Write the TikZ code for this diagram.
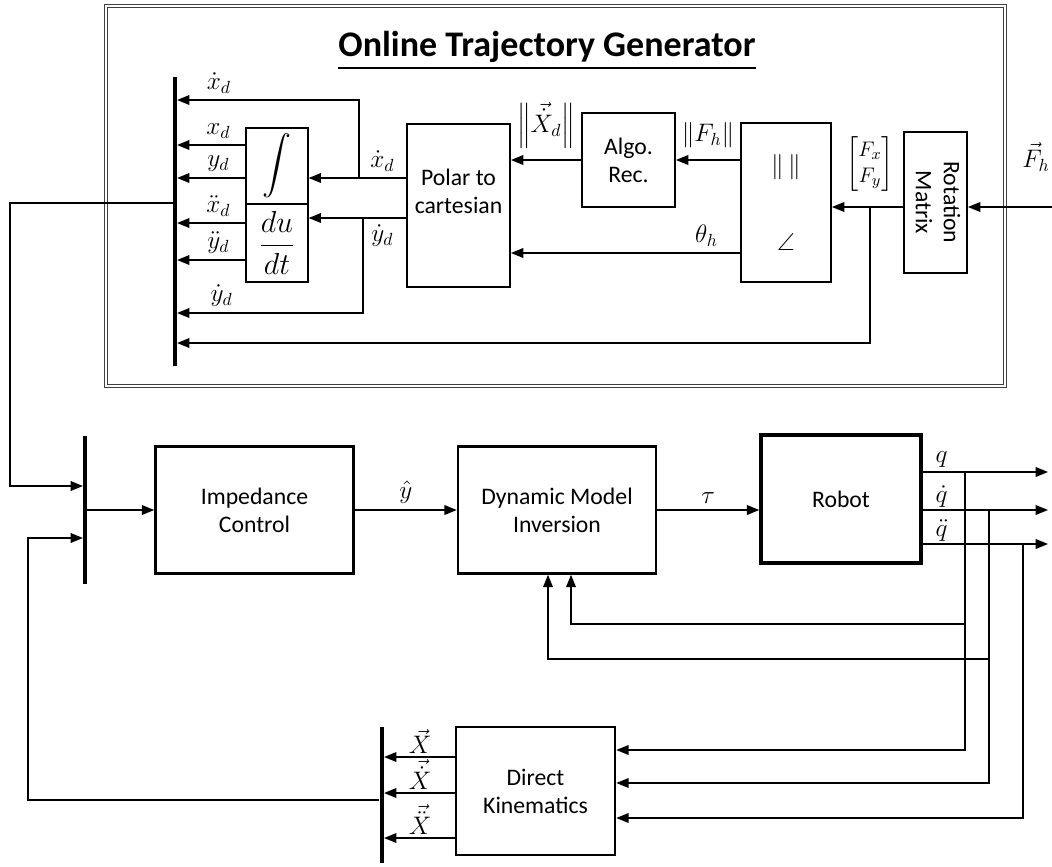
\documentclass[tikz,border=0pt]{standalone}
\usepackage{amsmath,amssymb}
\usepackage{fontspec}
\setmainfont{Carlito}
\usepackage{tikz}
\usetikzlibrary{arrows.meta,positioning,calc}

\begin{document}
\begin{tikzpicture}[
    x=0.02cm, y=-0.02cm,
    blk/.style={draw,line width=1.1pt,align=center,inner sep=0pt,font=\fontsize{13.5}{16}\selectfont},
    bigblk/.style={blk,line width=1.5pt,minimum width=3.96cm,minimum height=2.54cm},
    bus/.style={fill=black,inner sep=0pt,minimum width=0.07cm},
    sig/.style={font=\fontsize{14}{16}\selectfont},
    arr/.style={-{Triangle[length=7pt,width=5.5pt]},line width=0.8pt},
    wire/.style={line width=0.8pt}
]
\useasboundingbox (0,0) rectangle (1052,866);

% trajectory generator frame
\draw[draw=black!75,line width=0.5pt,double=white,double distance=1.6pt] (106,6) rectangle (1005,386);
\node[font=\fontsize{20.5}{22}\selectfont\bfseries] (title) at (547,51) {\underline{Online Trajectory Generator}};

\node[blk,line width=0.8pt,minimum width=1.24cm,minimum height=1.52cm] (integ) at (277,166) {\fontsize{16.5}{18}\selectfont$\displaystyle\int$};
\node[blk,line width=0.8pt,minimum width=1.24cm,minimum height=1.56cm] (deriv) at (277,243) {\fontsize{17}{19}\selectfont$\dfrac{du}{dt}$};
\node[blk,minimum width=2.06cm,minimum height=3.26cm] (polar) at (458.5,205.5) {Polar to\\cartesian\\\mbox{}};
\node[blk,minimum width=1.86cm,minimum height=1.88cm] (algo) at (628.5,160) {Algo.\\Rec.};
\node[blk,minimum width=1.8cm,minimum height=3.18cm,font=\fontsize{14}{16}\selectfont] (normang) at (786,202.5) {$\|\,\|$\\[28pt]$\angle$};
\node[blk,minimum width=1.26cm,minimum height=2.82cm] (rot) at (935.5,202.5) {\rotatebox{-90}{\begin{tabular}{@{}c@{}}Rotation\\Matrix\end{tabular}}};
\node[bus,minimum height=5.78cm] (tbus) at (175,221.5) {};

% force input
\coordinate (fin) at (1052,207);
\coordinate (fxy) at (870,207);
\node[sig] (fh) at (1036,157) {$\vec F_h$};
\draw[arr] (fin) -- (fin -| rot.east);
\draw[arr] (fin -| rot.west) -- (fin -| normang.east);
\node[font=\fontsize{13}{15}\selectfont] (fxylab) at (870,164) {$\begin{bmatrix}F_x\\F_y\end{bmatrix}$};
\coordinate (rfb) at (870,343);
\draw[arr] (fxy) -- (rfb) -- (rfb -| tbus.east);

\draw[arr] (normang.west |- algo.east) -- (algo.east) node[sig,midway,above=3pt] {$\|F_h\|$};
\coordinate (th) at (741,253);
\draw[arr] (th) -- (th -| polar.east) node[sig,pos=0.15,above] {$\theta_h$};
\draw[arr] (algo.west) -- (algo.west -| polar.east) node[sig,midway,above=3pt] {$\left\|\vec{\dot X}_d\right\|$};

% polar to cartesian outputs
\coordinate (pxd) at (407,178);
\coordinate (pyd) at (407,218);
\draw[arr] (pxd) -- (pxd -| integ.east) node[sig,pos=0.25,above] {$\dot x_d$};
\draw[arr] (pyd) -- (pyd -| deriv.east) node[sig,pos=0.25,below] {$\dot y_d$};
\coordinate (bxd) at (359,178);
\coordinate (rxd) at (359,100);
\draw[arr] (bxd) -- (rxd) -- (rxd -| tbus.east) node[sig,pos=0.77,above] {$\dot x_d$};
\coordinate (byd) at (363,218);
\coordinate (ryd) at (363,313);
\draw[arr] (byd) -- (ryd) -- (ryd -| tbus.east) node[sig,pos=0.76,above] {$\dot y_d$};

% integrator / derivative outputs
\coordinate (oxd) at (246,145);
\coordinate (oyd) at (246,178);
\coordinate (oxdd) at (246,223);
\coordinate (oydd) at (246,260);
\draw[arr] (oxd) -- (oxd -| tbus.east) node[sig,pos=0.4,above] {$x_d$};
\draw[arr] (oyd) -- (oyd -| tbus.east) node[sig,pos=0.4,above] {$y_d$};
\draw[arr] (oxdd) -- (oxdd -| tbus.east) node[sig,pos=0.4,above] {$\ddot x_d$};
\draw[arr] (oydd) -- (oydd -| tbus.east) node[sig,pos=0.4,above] {$\ddot y_d$};

% control loop
\node[bus,minimum height=2.96cm] (lbus) at (85,510) {};
\node[bigblk] (imp) at (254.5,510) {Impedance\\Control};
\node[bigblk] (dmi) at (557,510) {Dynamic Model\\Inversion};
\node[blk,line width=2pt,minimum width=3.2cm,minimum height=2.56cm] (robot) at (841,499) {Robot};
\node[blk,line width=1.5pt,minimum width=3.18cm,minimum height=2.56cm] (dk) at (535.5,791) {Direct\\Kinematics};
\node[bus,minimum height=2.72cm] (dkbus) at (382,795) {};

\coordinate (tout) at (173,203);
\coordinate (lin1) at (10,486);
\draw[arr] (tout) -| (lin1) -- (lin1 -| lbus.west);
\coordinate (dkout) at (379,800);
\coordinate (lin2) at (28,538);
\draw[arr] (dkout) -| (lin2) -- (lin2 -| lbus.west);

\draw[arr] (lbus.east) -- (lbus.east -| imp.west);
\draw[arr] (imp) -- (dmi) node[sig,midway,above] {$\hat y$};
\draw[arr] (dmi.east) -- (dmi.east -| robot.west) node[sig,midway,above] {$\tau$};

% robot outputs
\coordinate (qo) at (1048,472);
\coordinate (qdo) at (1048,510);
\coordinate (qddo) at (1048,544);
\draw[arr] (qo -| robot.east) -- (qo) node[sig,pos=0.15,above=-1pt] {$q$};
\draw[arr] (qdo -| robot.east) -- (qdo) node[sig,pos=0.15,above=-2pt] {$\dot q$};
\draw[arr] (qddo -| robot.east) -- (qddo) node[sig,pos=0.15,above=-2pt] {$\ddot q$};

\coordinate (bq) at (965,472);
\coordinate (bqd) at (989,510);
\coordinate (bqdd) at (1023,544);
\draw[arr] (bq) |- ($(dk.east)+(0,-41)$);
\draw[arr] (bqd) |- ($(dk.east)+(0,-8)$);
\draw[arr] (bqdd) |- ($(dk.east)+(0,27)$);
\coordinate (f1) at (965,624);
\coordinate (f2) at (989,659);
\draw[arr] (f1) -| ($(dmi.south)+(14,0)$);
\draw[arr] (f2) -| ($(dmi.south)+(-9,0)$);

% direct kinematics outputs
\coordinate (kx) at (456,757);
\coordinate (kxd) at (456,793);
\coordinate (kxdd) at (456,838);
\draw[arr] (kx) -- (kx -| dkbus.east) node[sig,midway,above=-2pt] {$\vec X$};
\draw[arr] (kxd) -- (kxd -| dkbus.east) node[sig,midway,above=-2pt] {$\vec{\dot X}$};
\draw[arr] (kxdd) -- (kxdd -| dkbus.east) node[sig,midway,above=-2pt] {$\vec{\ddot X}$};
\end{tikzpicture}
\end{document}
